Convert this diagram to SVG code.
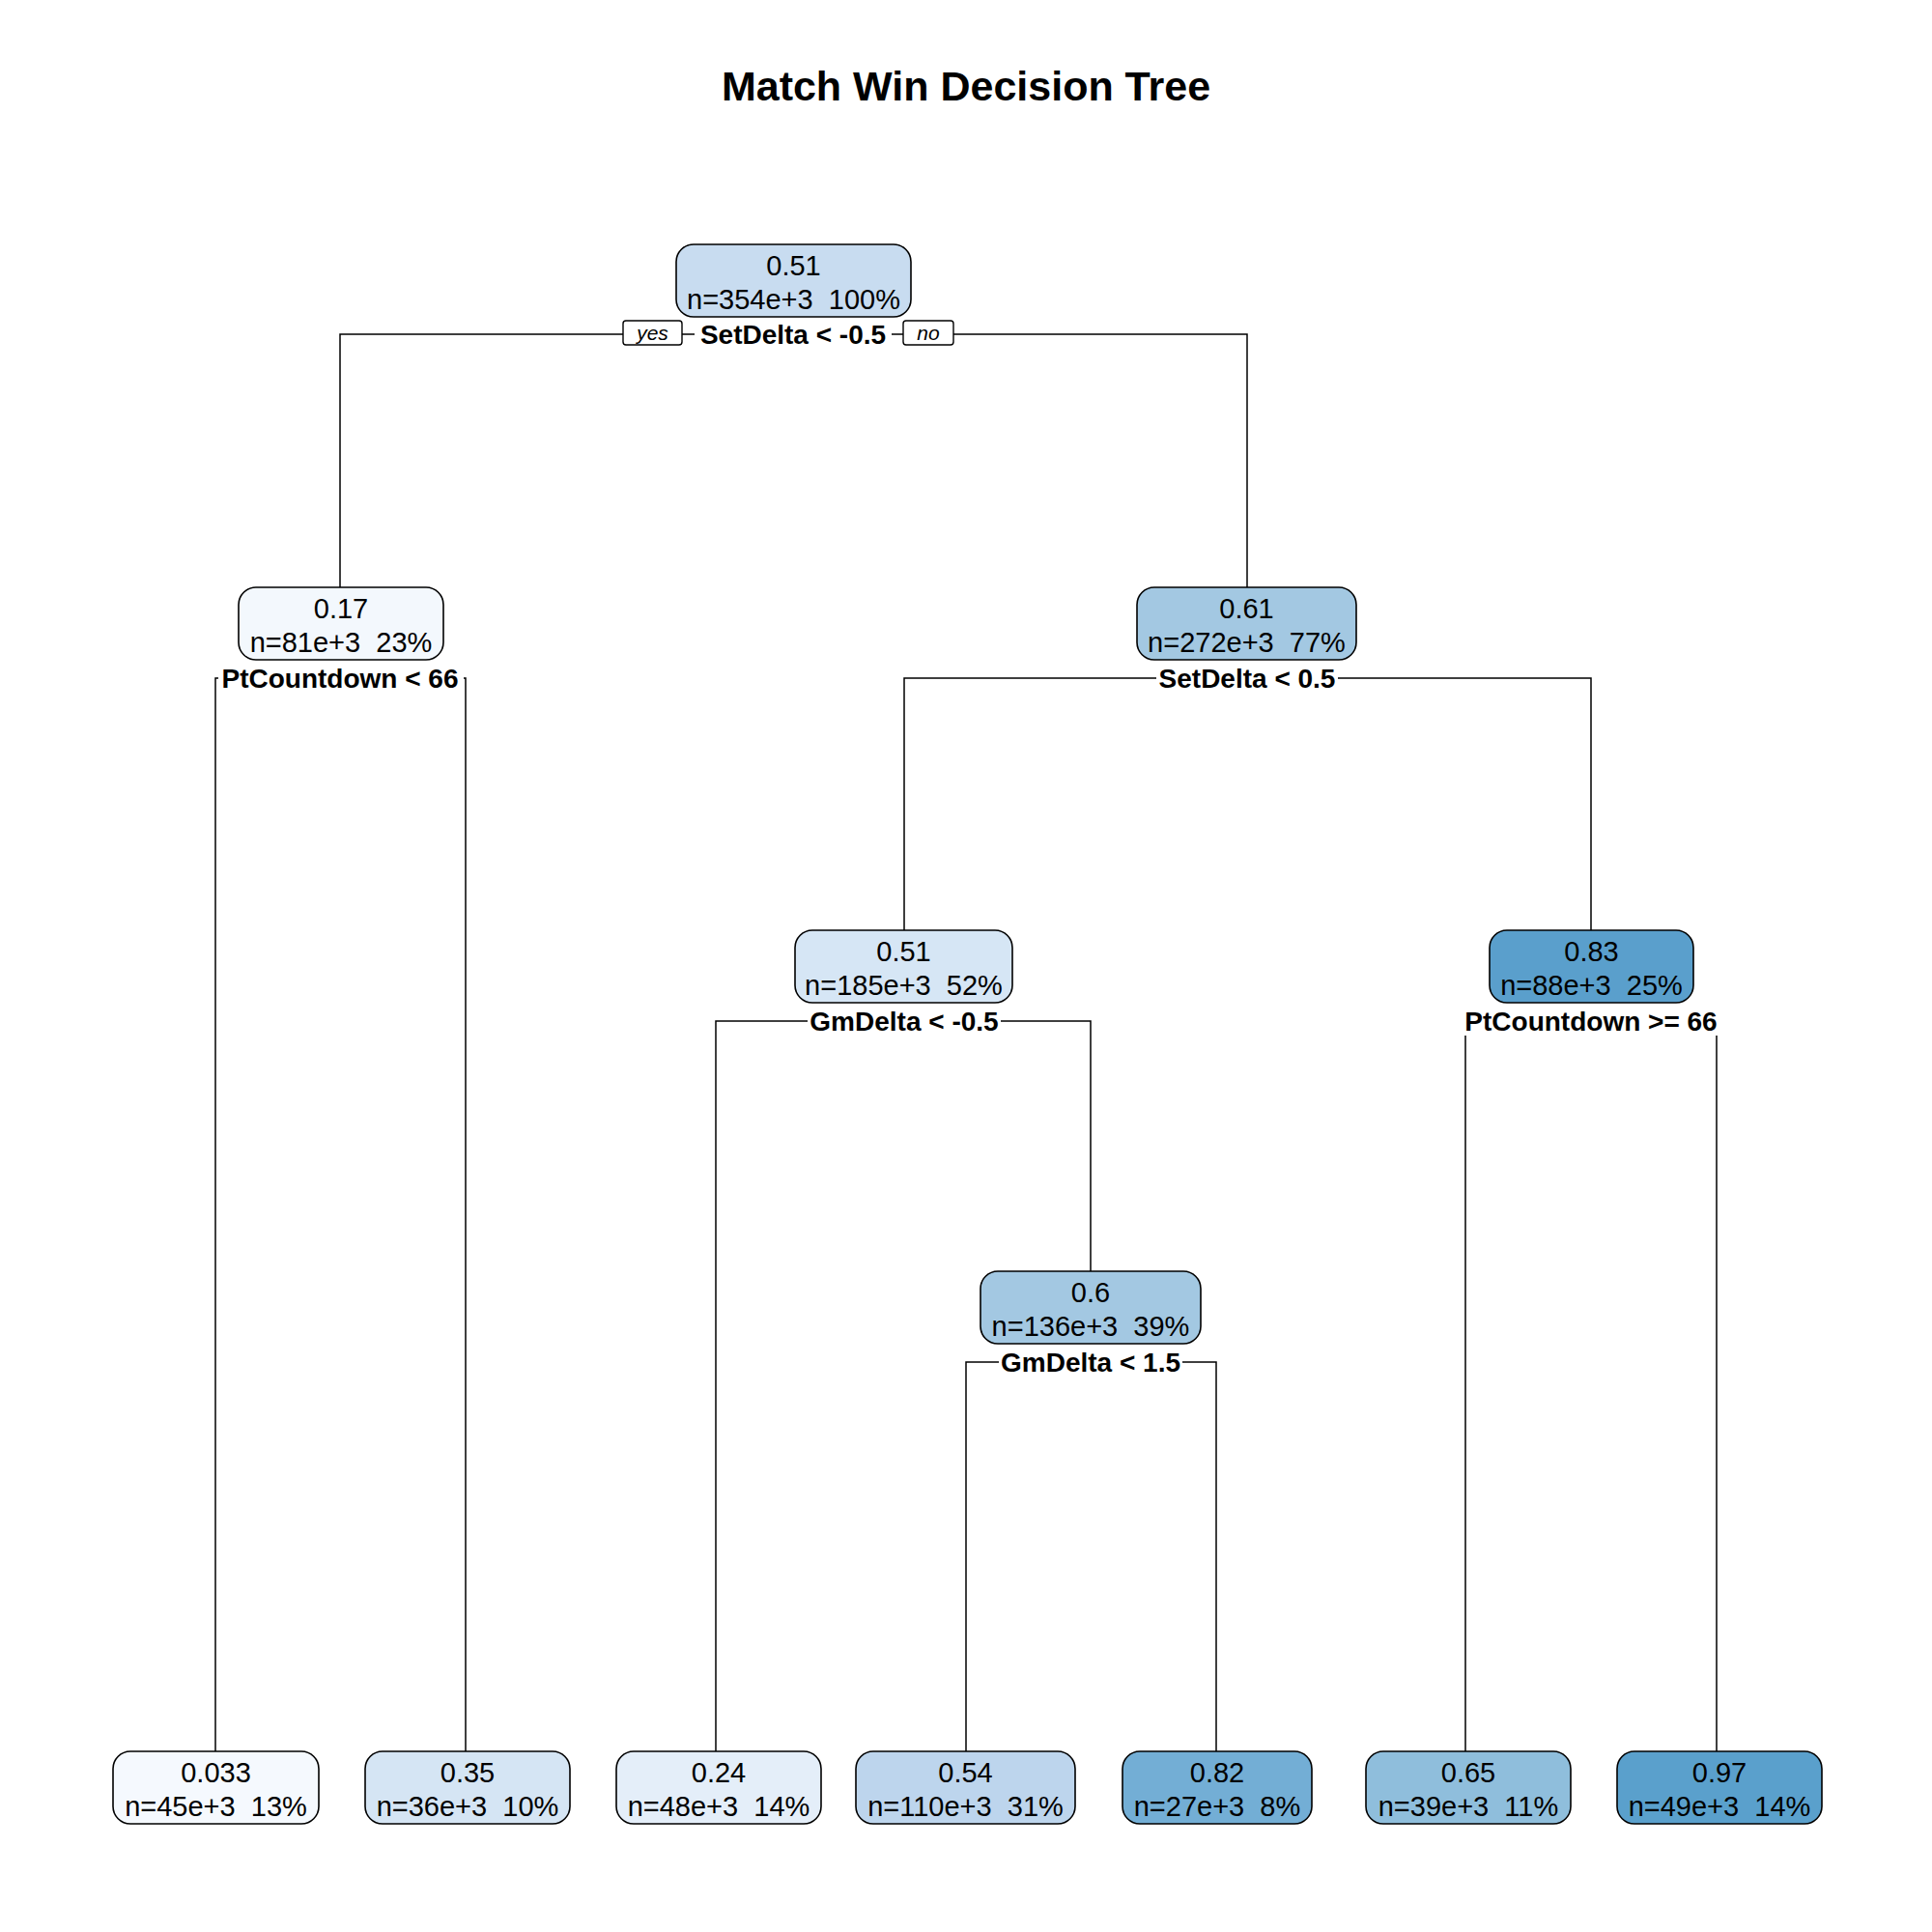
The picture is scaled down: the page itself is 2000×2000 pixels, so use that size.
<svg xmlns="http://www.w3.org/2000/svg" width="2000" height="2000" viewBox="0 0 2000 2000">
<style>
text{font-family:"Liberation Sans",Arial,sans-serif;white-space:pre;}
.t{font-size:43px;font-weight:bold;text-anchor:middle;}
.n{font-size:29px;text-anchor:middle;fill:#000;}
.s{font-size:28px;font-weight:bold;text-anchor:middle;}
.yn{font-size:21px;font-style:italic;text-anchor:middle;}
.box{stroke:#000;stroke-width:1.6;}
.bg{fill:#fff;stroke:none;}
.ynb{fill:#fff;stroke:#000;stroke-width:1.4;}
.c{fill:none;stroke:#000;stroke-width:1.5;}
</style>
<rect width="2000" height="2000" fill="#fff"/>
<text class="t" x="1000" y="104">Match Win Decision Tree</text>
<g id="connectors">
<path class="c" d="M352,608 V346 H1291 V608"/>
<path class="c" d="M223,1813 V702 H482 V1813"/>
<path class="c" d="M936,963 V702 H1647 V963"/>
<path class="c" d="M741,1813 V1057 H1129 V1316"/>
<path class="c" d="M1517,1813 V1057 H1777 V1813"/>
<path class="c" d="M1000,1813 V1410 H1259 V1813"/>
<rect class="bg" x="719" y="330" width="204" height="32"/>
<text class="s" x="821" y="356">SetDelta &lt; -0.5</text>
<rect class="ynb" x="645" y="332" width="61" height="25" rx="3"/>
<text class="yn" x="675.5" y="352">yes</text>
<rect class="ynb" x="935" y="332" width="52" height="25" rx="3"/>
<text class="yn" x="961" y="352">no</text>
<rect class="bg" x="226" y="686" width="254" height="30"/>
<text class="s" x="352" y="712">PtCountdown &lt; 66</text>
<rect class="bg" x="1197" y="686" width="188" height="30"/>
<text class="s" x="1291" y="712">SetDelta &lt; 0.5</text>
<rect class="bg" x="836" y="1041" width="200" height="31"/>
<text class="s" x="936" y="1067">GmDelta &lt; -0.5</text>
<rect class="bg" x="1512" y="1041" width="270" height="31"/>
<text class="s" x="1647" y="1067">PtCountdown &gt;= 66</text>
<rect class="bg" x="1034" y="1394" width="190" height="31"/>
<text class="s" x="1129" y="1420">GmDelta &lt; 1.5</text>
</g>
<g id="node1"><rect class="box" x="700" y="253" width="243" height="75" rx="18" fill="#c8dcf0"/>
<text class="n" x="821.5" y="285">0.51</text><text class="n" x="821.5" y="320">n=354e+3  100%</text></g>
<g id="node2"><rect class="box" x="247" y="608" width="212" height="75" rx="18" fill="#f3f8fd"/>
<text class="n" x="353" y="640">0.17</text><text class="n" x="353" y="675">n=81e+3  23%</text></g>
<g id="node3"><rect class="box" x="1177" y="608" width="227" height="75" rx="18" fill="#a3c8e2"/>
<text class="n" x="1290.5" y="640">0.61</text><text class="n" x="1290.5" y="675">n=272e+3  77%</text></g>
<g id="node6"><rect class="box" x="823" y="963" width="225" height="75" rx="18" fill="#d6e6f5"/>
<text class="n" x="935.5" y="995">0.51</text><text class="n" x="935.5" y="1030">n=185e+3  52%</text></g>
<g id="node7"><rect class="box" x="1542" y="963" width="211" height="75" rx="18" fill="#5a9fcc"/>
<text class="n" x="1647.5" y="995">0.83</text><text class="n" x="1647.5" y="1030">n=88e+3  25%</text></g>
<g id="node13"><rect class="box" x="1015" y="1316" width="228" height="75" rx="18" fill="#a3c8e2"/>
<text class="n" x="1129" y="1348">0.6</text><text class="n" x="1129" y="1383">n=136e+3  39%</text></g>
<g id="leaf4"><rect class="box" x="117" y="1813" width="213" height="75" rx="18" fill="#f5f9fe"/>
<text class="n" x="223.5" y="1845">0.033</text><text class="n" x="223.5" y="1880">n=45e+3  13%</text></g>
<g id="leaf5"><rect class="box" x="378" y="1813" width="212" height="75" rx="18" fill="#d5e5f4"/>
<text class="n" x="484" y="1845">0.35</text><text class="n" x="484" y="1880">n=36e+3  10%</text></g>
<g id="leaf12"><rect class="box" x="638" y="1813" width="212" height="75" rx="18" fill="#e4eef9"/>
<text class="n" x="744" y="1845">0.24</text><text class="n" x="744" y="1880">n=48e+3  14%</text></g>
<g id="leaf26"><rect class="box" x="886" y="1813" width="227" height="75" rx="18" fill="#bdd5ed"/>
<text class="n" x="999.5" y="1845">0.54</text><text class="n" x="999.5" y="1880">n=110e+3  31%</text></g>
<g id="leaf27"><rect class="box" x="1162" y="1813" width="196" height="75" rx="18" fill="#73aed5"/>
<text class="n" x="1260" y="1845">0.82</text><text class="n" x="1260" y="1880">n=27e+3  8%</text></g>
<g id="leaf14"><rect class="box" x="1414" y="1813" width="212" height="75" rx="18" fill="#8fbedc"/>
<text class="n" x="1520" y="1845">0.65</text><text class="n" x="1520" y="1880">n=39e+3  11%</text></g>
<g id="leaf15"><rect class="box" x="1674" y="1813" width="212" height="75" rx="18" fill="#5aa0cc"/>
<text class="n" x="1780" y="1845">0.97</text><text class="n" x="1780" y="1880">n=49e+3  14%</text></g>
</svg>
